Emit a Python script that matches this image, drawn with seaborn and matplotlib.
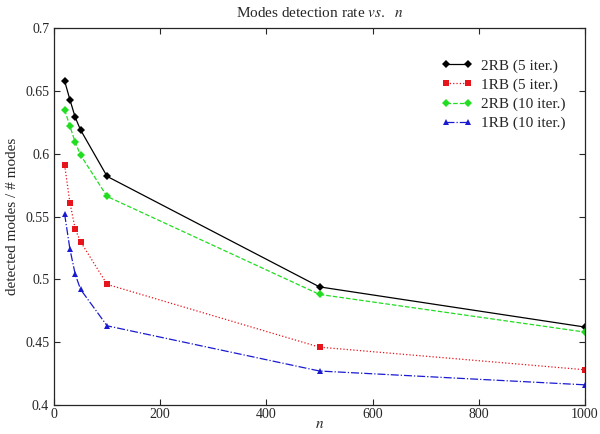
import matplotlib
matplotlib.use('Agg')
import matplotlib.pyplot as plt
import seaborn as sns
import pandas as pd

n_vals = [20, 30, 40, 50, 100, 500, 1000]
rb2_5 = [0.658, 0.643, 0.629, 0.619, 0.582, 0.494, 0.462]
rb1_5 = [0.591, 0.561, 0.540, 0.530, 0.496, 0.446, 0.428]
rb2_10 = [0.635, 0.622, 0.609, 0.599, 0.566, 0.488, 0.458]
rb1_10 = [0.552, 0.524, 0.504, 0.492, 0.463, 0.427, 0.416]
labels = ['2RB (5 iter.)', '1RB (5 iter.)', '2RB (10 iter.)', '1RB (10 iter.)']

sns.set_style('ticks')
plt.rcParams['font.family'] = ['Liberation Serif', 'DejaVu Serif']
plt.rcParams['mathtext.fontset'] = 'stix'

series = [rb2_5, rb1_5, rb2_10, rb1_10]
df = pd.concat([pd.DataFrame({'n': n_vals, 'rate': s, 'serie': lab})
                for s, lab in zip(series, labels)])

estilos = {
    '2RB (5 iter.)': dict(color='black', ls='-', marker='D', ms=4, lw=0.9),
    '1RB (5 iter.)': dict(color='#e8141c', ls=':', marker='s', ms=5, lw=0.9),
    '2RB (10 iter.)': dict(color='#22dd22', ls='--', marker='D', ms=4, lw=0.9),
    '1RB (10 iter.)': dict(color='#1a1ad0', ls='-.', marker='^', ms=5, lw=0.9),
}

fig = plt.figure(figsize=(6, 4.34), dpi=100)
ax = fig.add_axes([0.09, 0.067, 0.885, 0.868])

for lab in labels:
    sub = df[df['serie'] == lab]
    st = estilos[lab]
    sns.lineplot(data=sub, x='n', y='rate', ax=ax, label=lab, color=st['color'],
                 linestyle=st['ls'], marker=st['marker'], markersize=st['ms'],
                 linewidth=st['lw'], markeredgewidth=0)

ax.set_xlim(0, 1000)
ax.set_ylim(0.4, 0.7)
ax.set_xticks([0, 200, 400, 600, 800, 1000])
ax.set_yticks([0.4, 0.45, 0.5, 0.55, 0.6, 0.65, 0.7])
ax.set_yticklabels(['0.4', '0.45', '0.5', '0.55', '0.6', '0.65', '0.7'])
ax.tick_params(direction='in', top=True, right=True, labelsize=10, length=4, width=0.8)
ax.tick_params(axis='x', pad=2)
for sp in ax.spines.values():
    sp.set_linewidth(0.9)
    sp.set_visible(True)

ax.set_title(r'Modes detection rate $\it{vs.}$  $\it{n}$', fontsize=11, pad=8)
ax.set_xlabel(r'$\it{n}$', fontsize=11, labelpad=-2)
ax.set_ylabel('detected modes / # modes', fontsize=11, labelpad=4)

leg = ax.legend(loc='upper right', bbox_to_anchor=(0.99, 0.955), frameon=False,
                fontsize=11, handlelength=2.0, labelspacing=0.35, numpoints=2,
                handletextpad=0.6)

plt.savefig('out.png', dpi=100)
plt.close()
